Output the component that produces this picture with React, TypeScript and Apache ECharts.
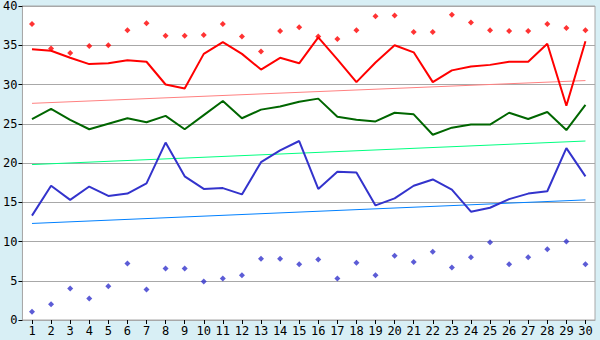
import React, { useEffect, useRef } from "react";
import * as echarts from "echarts";

const categories = Array.from({ length: 30 }, (_, i) => String(i + 1));

const redLine = [34.5, 34.3, 33.4, 32.6, 32.7, 33.1, 32.9, 30.0, 29.5, 33.9, 35.4, 33.9, 31.9, 33.4, 32.7, 36.0, 33.2, 30.3, 32.8, 35.0, 34.1, 30.3, 31.8, 32.3, 32.5, 32.9, 32.9, 35.2, 27.3, 35.5];
const redMarks = [37.7, 34.6, 34.0, 34.9, 35.0, 36.9, 37.8, 36.2, 36.2, 36.3, 37.7, 36.1, 34.2, 36.8, 37.3, 36.1, 35.8, 36.9, 38.7, 38.8, 36.7, 36.7, 38.9, 37.9, 36.9, 36.8, 36.8, 37.7, 37.2, 36.9];
const greenLine = [25.6, 26.9, 25.5, 24.3, 25.0, 25.7, 25.2, 26.0, 24.3, 26.1, 27.9, 25.7, 26.8, 27.2, 27.8, 28.2, 25.9, 25.5, 25.3, 26.4, 26.2, 23.6, 24.5, 24.9, 24.9, 26.4, 25.6, 26.5, 24.2, 27.4];
const blueLine = [13.3, 17.1, 15.3, 17.0, 15.8, 16.1, 17.4, 22.6, 18.3, 16.7, 16.8, 16.0, 20.1, 21.6, 22.8, 16.7, 18.9, 18.8, 14.6, 15.5, 17.1, 17.9, 16.6, 13.8, 14.3, 15.4, 16.1, 16.4, 21.9, 18.3];
const blueMarks = [1.05, 2.0, 4.0, 2.75, 4.3, 7.2, 3.9, 6.55, 6.55, 4.9, 5.3, 5.7, 7.8, 7.8, 7.1, 7.7, 5.3, 7.3, 5.7, 8.2, 7.4, 8.7, 6.7, 8.0, 9.9, 7.1, 8.0, 9.0, 10.0, 7.1];

// trend lines: value at first and at last category
const redTrend = [27.6, 30.5];
const greenTrend = [19.8, 22.8];
const blueTrend = [12.3, 15.3];

const yTicks = { min: 0, max: 40, interval: 5 };

const FONT = "DejaVu Sans Mono";

function trendData(t: number[]) {
  return [
    [0, t[0]],
    [categories.length - 1, t[1]],
  ];
}

export default function App() {
  const ref = useRef<HTMLDivElement>(null);
  useEffect(() => {
    if (!ref.current) return;
    const chart = echarts.init(ref.current, undefined, { renderer: "svg" });
    const lineBase = (name: string, data: any, color: string, width: number) => ({
      name,
      type: "line",
      data,
      symbol: "none",
      lineStyle: { color, width },
      itemStyle: { color },
      z: 2,
    });
    chart.setOption({
      animation: false,
      backgroundColor: "#d8eff5",
      grid: {
        left: 21,
        top: 5,
        right: 5,
        bottom: 20,
        show: true,
        backgroundColor: "#ffffff",
        borderColor: "#a8a8a8",
        borderWidth: 1,
      },
      xAxis: {
        type: "category",
        data: categories,
        boundaryGap: true,
        axisLine: { show: true, lineStyle: { color: "#a8a8a8" } },
        axisTick: { show: true, alignWithLabel: true, length: 4, lineStyle: { color: "#000000" } },
        axisLabel: { color: "#000000", fontFamily: FONT, fontSize: 12, margin: 5, interval: 0 },
        splitLine: { show: false },
      },
      yAxis: {
        type: "value",
        min: yTicks.min,
        max: yTicks.max,
        interval: yTicks.interval,
        axisLine: { show: true, lineStyle: { color: "#a8a8a8" } },
        axisTick: { show: true, length: 4, lineStyle: { color: "#000000" } },
        axisLabel: { color: "#000000", fontFamily: FONT, fontSize: 12, margin: 5 },
        splitLine: { show: true, lineStyle: { color: "#a8a8a8", width: 1 } },
      },
      series: [
        lineBase("redTrend", trendData(redTrend), "#ff8080", 1),
        lineBase("greenTrend", trendData(greenTrend), "#00ff80", 1),
        lineBase("blueTrend", trendData(blueTrend), "#0080ff", 1),
        lineBase("red", redLine, "#ff0000", 2),
        lineBase("green", greenLine, "#006600", 2),
        lineBase("blue", blueLine, "#3333cc", 2),
        {
          name: "redMarks",
          type: "scatter",
          data: redMarks,
          symbol: "diamond",
          symbolSize: 6,
          itemStyle: { color: "#ff0000" },
          z: 3,
        },
        {
          name: "blueMarks",
          type: "scatter",
          data: blueMarks,
          symbol: "diamond",
          symbolSize: 6,
          itemStyle: { color: "#3333cc" },
          z: 3,
        },
      ],
    });
    return () => chart.dispose();
  }, []);
  return (
    <div
      ref={ref}
      style={{ position: "fixed", left: 0, top: 0, width: 600, height: 340 }}
    />
  );
}
